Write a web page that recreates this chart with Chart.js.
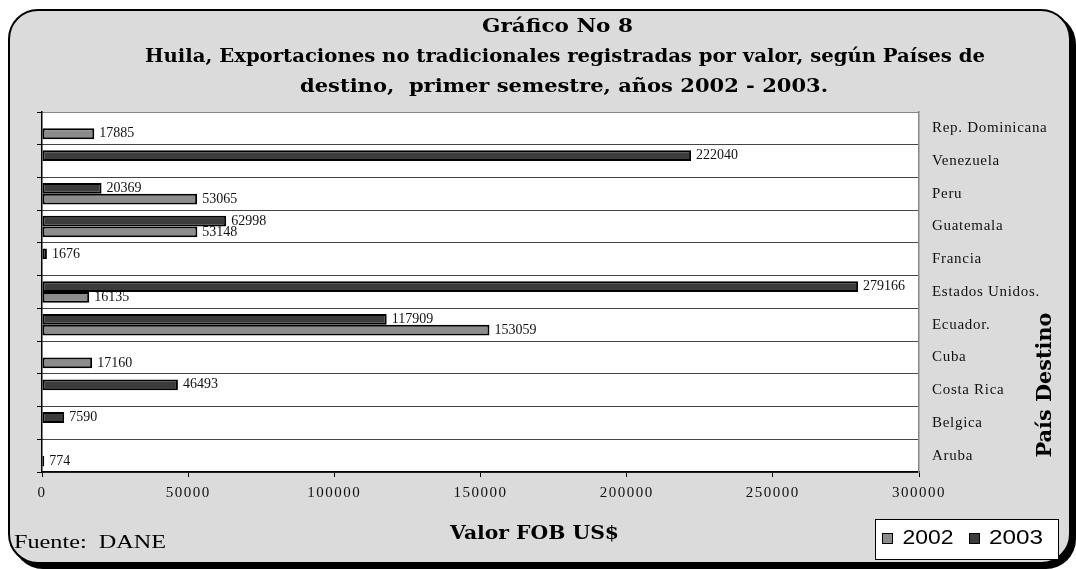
<!DOCTYPE html>
<html>
<head>
<meta charset="utf-8">
<script src="https://cdn.jsdelivr.net/npm/chart.js@4.4.1/dist/chart.umd.min.js"></script>
<style>
html,body{margin:0;padding:0;background:#fff;width:1076px;height:569px;overflow:hidden;}
#frame{position:absolute;left:8px;top:9px;width:1059px;height:551px;border:2px solid #000;border-radius:30px;box-shadow:5px 5px 0 #000;background:#dbdbdb;}
#c{position:absolute;left:0;top:0;}
</style>
</head>
<body>
<div id="frame"></div>
<canvas id="c" width="1076" height="569"></canvas>
<script>
// ---- data ----
const categories = ['Rep. Dominicana','Venezuela','Peru','Guatemala','Francia','Estados Unidos.','Ecuador.','Cuba','Costa Rica','Belgica','Aruba'];
const values2002 = [17885, null, 53065, 53148, null, 16135, 153059, 17160, null, null, 774];
const values2003 = [null, 222040, 20369, 62998, 1676, 279166, 117909, null, 46493, 7590, null];
const seriesLabels = ['2002', '2003'];
const xTickValues = [0, 50000, 100000, 150000, 200000, 250000, 300000];
const titleLines = ['Gráfico No 8', 'Huila, Exportaciones no tradicionales registradas por valor, según Países de', 'destino,  primer semestre, años 2002 - 2003.'];
const xTitle = 'Valor FOB US$';
const yTitle = 'País Destino';
const sourceNote = 'Fuente:  DANE';

const SERIF = '"Liberation Serif", "Times New Roman", serif';
const BOLD = '"DejaVu Serif", serif';
const SANS = '"Liberation Sans", Arial, sans-serif';
const COLORS = ['#8c8c8c', '#3c3c3c'];

function fitText(ctx, text, font, x, y, w, align) {
  ctx.save();
  ctx.font = font; ctx.textBaseline = 'middle'; ctx.textAlign = 'left'; ctx.fillStyle = '#000';
  const nat = ctx.measureText(text).width;
  const s = w / nat;
  const left = align === 'left' ? x : x - w / 2;
  ctx.translate(left, y); ctx.scale(s, 1); ctx.fillText(text, 0, 0);
  ctx.restore();
}

const plotBg = {
  id: 'plotBg',
  beforeDraw(chart) {
    const {ctx, chartArea: a} = chart;
    ctx.save(); ctx.fillStyle = '#fff';
    ctx.fillRect(a.left, a.top, a.right - a.left, a.bottom - a.top);
    ctx.restore();
    const sp = [['x', '1.5px'], ['y', '0.7px']];
    for (const [id, v] of sp) {
      const s = chart.scales[id];
      if (s && !s._spPatched) {
        const orig = s.drawLabels;
        s.drawLabels = function (area) { const c = this.ctx; c.save(); c.letterSpacing = v; orig.call(this, area); c.restore(); };
        s._spPatched = true;
      }
    }
  }
};

const barLabels = {
  id: 'barLabels',
  afterDatasetDraw(chart, args) {
    const {ctx} = chart;
    const ds = chart.data.datasets[args.index];
    ctx.save();
    ctx.font = '14px ' + SERIF; ctx.fillStyle = '#111'; ctx.textBaseline = 'middle'; ctx.textAlign = 'left';
    args.meta.data.forEach((el, i) => {
      const v = ds.data[i];
      if (v === null || v === undefined) return;
      ctx.fillText(String(v), el.x + 5, el.y);
    });
    ctx.restore();
  }
};

const decorations = {
  id: 'decorations',
  afterDraw(chart) {
    const ctx = chart.ctx;
    // titles
    fitText(ctx, titleLines[0], 'bold 18px ' + BOLD, 557.5, 27, 151);
    fitText(ctx, titleLines[1], 'bold 18px ' + BOLD, 565, 57, 840);
    fitText(ctx, titleLines[2], 'bold 18px ' + BOLD, 564, 87, 528);
    // x axis title
    fitText(ctx, xTitle, 'bold 18px ' + BOLD, 534.5, 534, 169);
    // source
    fitText(ctx, sourceNote, '18px ' + SERIF, 14, 543, 152, 'left');
    // y axis title rotated
    ctx.save();
    ctx.translate(1046, 385); ctx.rotate(-Math.PI / 2);
    fitText(ctx, yTitle, 'bold 20px ' + BOLD, 0, 0, 145);
    ctx.restore();
    // legend
    ctx.save();
    ctx.fillStyle = '#fff'; ctx.strokeStyle = '#000'; ctx.lineWidth = 1;
    ctx.fillRect(875.5, 519.5, 183, 40); ctx.strokeRect(875.5, 519.5, 183, 40);
    const items = [{x: 882, tx: 902.5, w: 51}, {x: 969, tx: 989, w: 54}];
    seriesLabels.forEach((lab, i) => {
      const it = items[i];
      ctx.fillStyle = COLORS[i]; ctx.fillRect(it.x + 0.5, 533.5, 10, 10);
      ctx.strokeStyle = '#000'; ctx.strokeRect(it.x + 0.5, 533.5, 10, 10);
      fitText(ctx, lab, '20px ' + SANS, it.tx, 538, it.w, 'left');
    });
    ctx.restore();
  }
};

new Chart(document.getElementById('c'), {
  type: 'bar',
  data: {
    labels: categories,
    datasets: [
      {label: seriesLabels[0], data: values2002, backgroundColor: COLORS[0], borderColor: '#000', borderWidth: 2, borderSkipped: false, order: 1},
      {label: seriesLabels[1], data: values2003, backgroundColor: COLORS[1], borderColor: '#000', borderWidth: 2, borderSkipped: false, order: 0}
    ]
  },
  options: {
    responsive: false,
    animation: false,
    indexAxis: 'y',
    layout: {padding: {left: 37, top: 112, right: 0, bottom: 0}},
    datasets: {bar: {categoryPercentage: 0.66, barPercentage: 1}},
    plugins: {legend: {display: false}, tooltip: {enabled: false}, title: {display: false}},
    scales: {
      x: {
        type: 'linear', position: 'bottom', min: 0, max: 300000,
        afterBuildTicks: s => { s.ticks = xTickValues.map(v => ({value: v})); },
        ticks: {callback: v => String(v), font: {family: SERIF, size: 15}, color: '#111', padding: 7, maxRotation: 0, autoSkip: false},
        grid: {drawOnChartArea: false, drawTicks: true, tickLength: 5, color: '#000', lineWidth: 1},
        border: {display: true, color: '#000', width: 1.5},
        afterFit: s => { s.height = 97; }
      },
      y: {
        type: 'category', position: 'right', offset: true,
        ticks: {font: {family: SERIF, size: 15}, color: '#111', padding: 13, crossAlign: 'near'},
        grid: {offset: true, drawTicks: false, color: c => (c.index === 0 ? '#888' : '#444'), lineWidth: 1},
        border: {display: true, color: '#888', width: 1.5},
        afterFit: s => { s.width = 157; }
      },
      y2: {
        type: 'category', position: 'left', offset: true, labels: categories,
        ticks: {display: false},
        grid: {offset: true, drawOnChartArea: false, drawTicks: true, tickLength: 5, color: '#000', lineWidth: 1},
        border: {display: true, color: '#000', width: 1.5},
        afterFit: s => { s.width = 5; }
      }
    }
  },
  plugins: [plotBg, barLabels, decorations]
});
</script>
</body>
</html>
